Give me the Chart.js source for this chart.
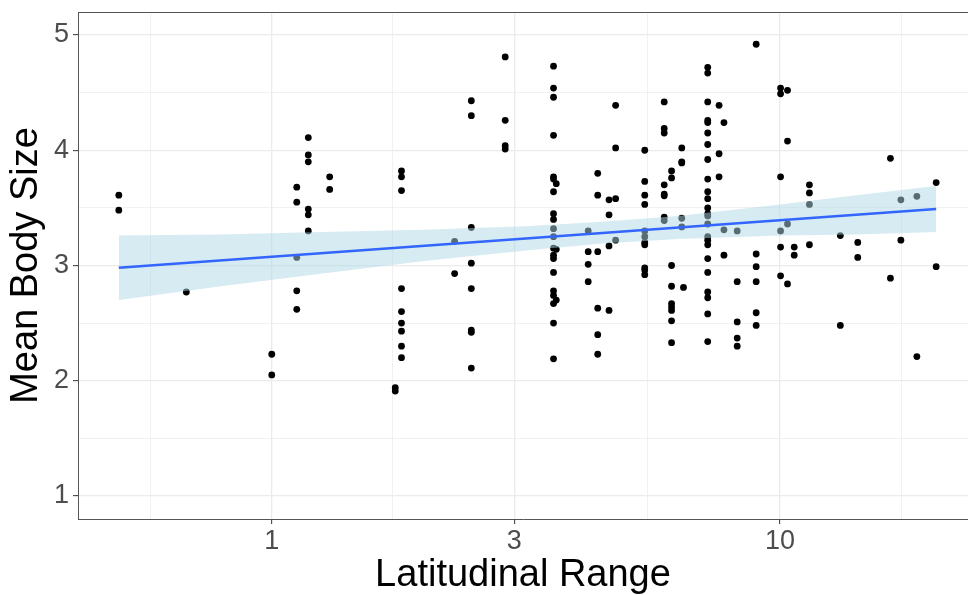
<!DOCTYPE html>
<html>
<head>
<meta charset="utf-8">
<script src="https://cdn.jsdelivr.net/npm/chart.js@4/dist/chart.umd.min.js"></script>
<style>
  html, body { margin: 0; padding: 0; background: #fff; overflow: hidden; }
  canvas { display: block; }
</style>
</head>
<body>
<canvas id="chart" width="968" height="595"></canvas>
<script>
// Latitudinal range (x, log scale) and mean body size (y) for each species
const latRange = [
  0.5, 0.5,
  0.679,
  1.0, 1.0,
  1.12, 1.12, 1.12, 1.12, 1.12,
  1.18, 1.18, 1.18, 1.18, 1.18, 1.18,
  1.30, 1.30,
  1.75, 1.75,
  1.80, 1.80, 1.80, 1.80, 1.80, 1.80, 1.80, 1.80, 1.80,
  2.29, 2.29,
  2.47, 2.47, 2.47, 2.47, 2.47, 2.47, 2.47, 2.47,
  2.88, 2.88, 2.88, 2.88,
  3.585, 3.585, 3.585, 3.585, 3.585, 3.585, 3.585, 3.585, 3.585, 3.585,
  3.585, 3.585, 3.585, 3.585, 3.585, 3.585, 3.585, 3.585, 3.585, 3.585,
  3.63, 3.63, 3.63,
  4.195, 4.195, 4.195, 4.195,
  4.38, 4.38, 4.38, 4.38, 4.38, 4.38,
  4.61, 4.61, 4.61, 4.61,
  4.75, 4.75, 4.75, 4.75,
  5.42, 5.42, 5.42, 5.42, 5.42, 5.42, 5.42, 5.42, 5.42, 5.42, 5.42,
  5.92, 5.92, 5.92, 5.92, 5.92, 5.92, 5.92, 5.92,
  6.12, 6.12, 6.12, 6.12, 6.12, 6.12, 6.12, 6.12, 6.12,
  6.41, 6.41, 6.41, 6.41, 6.41,
  6.46,
  7.21, 7.21, 7.21, 7.21, 7.21, 7.21, 7.21, 7.21, 7.21, 7.21, 7.21, 7.21,
  7.21, 7.21, 7.21, 7.21, 7.21, 7.21, 7.21, 7.21, 7.21, 7.21, 7.21, 7.21,
  7.59, 7.59, 7.59,
  7.76, 7.76, 7.76,
  8.24, 8.24, 8.24, 8.24, 8.24,
  8.98, 8.98, 8.98, 8.98, 8.98, 8.98,
  10.03, 10.03, 10.03, 10.03, 10.03, 10.03,
  10.35, 10.35, 10.35, 10.35,
  10.67, 10.67,
  11.43, 11.43, 11.43, 11.43,
  13.15, 13.15,
  14.23, 14.23,
  16.5, 16.5,
  17.3, 17.3,
  18.6, 18.6,
  20.3, 20.3
];
const bodySize = [
  3.61, 3.48,
  2.77,
  2.23, 2.05,
  3.68, 3.55, 3.07, 2.78, 2.62,
  4.11, 3.96, 3.90, 3.49, 3.44, 3.30,
  3.77, 3.66,
  1.94, 1.91,
  3.82, 3.77, 3.65, 2.80, 2.60, 2.50, 2.43, 2.30, 2.20,
  3.21, 2.93,
  4.43, 4.30, 3.33, 3.02, 2.80, 2.44, 2.42, 2.11,
  4.81, 4.26, 4.04, 4.01,
  4.73, 4.54, 4.46, 4.13, 3.77, 3.75, 3.64, 3.45, 3.40, 3.32,
  3.25, 3.15, 3.09, 3.06, 2.94, 2.78, 2.74, 2.67, 2.50, 2.19,
  3.71, 3.14, 2.70,
  3.30, 3.12, 3.01, 2.86,
  3.80, 3.61, 3.12, 2.63, 2.40, 2.23,
  3.57, 3.44, 3.17, 2.61,
  4.39, 4.02, 3.58, 3.22,
  4.00, 3.73, 3.61, 3.53, 3.30, 3.25, 3.20, 3.18, 2.98, 2.96, 2.92,
  4.42, 4.19, 4.15, 3.70, 3.62, 3.605, 3.42, 3.39,
  3.82, 3.76, 3.00, 2.82, 2.67, 2.64, 2.61, 2.52, 2.33,
  4.02, 3.90, 3.89, 3.41, 3.335,
  2.81,
  4.72, 4.67, 4.42, 4.26, 4.24, 4.15, 4.05, 3.92, 3.75, 3.64, 3.58, 3.50,
  3.45, 3.43, 3.36, 3.25, 3.22, 3.18, 3.06, 2.94, 2.77, 2.72, 2.58, 2.34,
  4.39, 3.97, 3.77,
  4.24, 3.31, 3.09,
  3.30, 2.86, 2.51, 2.37, 2.30,
  4.92, 3.10, 2.99, 2.86, 2.59, 2.48,
  4.54, 4.49, 3.77, 3.30, 3.16, 2.91,
  4.52, 4.08, 3.36, 2.84,
  3.16, 3.09,
  3.70, 3.63, 3.53, 3.18,
  3.26, 2.48,
  3.20, 3.07,
  3.93, 2.89,
  3.57, 3.22,
  3.60, 2.21,
  3.72, 2.99
];

// fitted line (straight on the log axis) and its confidence band
const fitX = [0.5, 20.3];
const fitY = [2.98, 3.49];
const bandX = [0.5, 0.794, 1.259, 1.995, 3.162, 4.467, 6.31, 10, 14.13, 20.3];
const bandLow = [2.70, 2.82, 2.93, 3.04, 3.13, 3.19, 3.23, 3.26, 3.27, 3.29];
const bandHigh = [3.26, 3.27, 3.29, 3.31, 3.34, 3.38, 3.43, 3.53, 3.61, 3.69];

// axis breaks
const xTicks = [1, 3, 10];
const xMinorTicks = [0.5774, 1.732, 5.477, 17.32];
const yTicks = [1, 2, 3, 4, 5];
const yMinorTicks = [1.5, 2.5, 3.5, 4.5];

const toPoints = (xs, ys) => xs.map((x, i) => ({ x, y: ys[i] }));

const gridColor = '#EBEBEB';
const axisGrey = '#4D4D4D';
const font = 'Liberation Sans, Arial, sans-serif';

const setTicks = (major, minor) => (axis) => {
  axis.ticks = major.map(v => ({ value: v, major: true }))
    .concat(minor.map(v => ({ value: v, major: false })))
    .sort((a, b) => a.value - b.value);
};

// top edge of the panel frame
const panelFrame = {
  id: 'panelFrame',
  afterDatasetsDraw(chart) {
    const { ctx, chartArea } = chart;
    ctx.save();
    ctx.strokeStyle = '#555';
    ctx.lineWidth = 1;
    ctx.beginPath();
    ctx.moveTo(chartArea.left, chartArea.top + 0.5);
    ctx.lineTo(chartArea.right, chartArea.top + 0.5);
    ctx.stroke();
    ctx.restore();
  }
};

new Chart(document.getElementById('chart'), {
  type: 'scatter',
  data: {
    datasets: [
      {
        label: 'fit',
        data: toPoints(fitX, fitY),
        showLine: true,
        borderColor: '#3366FF',
        borderWidth: 2.6,
        pointRadius: 0,
        order: 0
      },
      {
        label: 'lower',
        data: toPoints(bandX, bandLow),
        showLine: true,
        borderWidth: 0,
        borderColor: 'rgba(0,0,0,0)',
        pointRadius: 0,
        fill: false,
        order: 2
      },
      {
        label: 'upper',
        data: toPoints(bandX, bandHigh),
        showLine: true,
        borderWidth: 0,
        borderColor: 'rgba(0,0,0,0)',
        backgroundColor: 'rgba(173,216,230,0.5)',
        pointRadius: 0,
        fill: '-1',
        order: 1
      },
      {
        label: 'species',
        data: toPoints(latRange, bodySize),
        backgroundColor: '#000',
        borderWidth: 0,
        pointRadius: 3.4,
        pointHoverRadius: 3.4,
        order: 3
      }
    ]
  },
  options: {
    responsive: false,
    animation: false,
    devicePixelRatio: 1,
    events: [],
    layout: {
      autoPadding: false,
      padding: { top: 12, right: 0, bottom: 0, left: 0 }
    },
    plugins: {
      legend: { display: false },
      tooltip: { enabled: false }
    },
    scales: {
      x: {
        type: 'logarithmic',
        min: 0.4156,
        max: 23.45,
        afterBuildTicks: setTicks(xTicks, xMinorTicks),
        afterFit: (axis) => {
          axis.height = 76;
          axis.paddingLeft = 0;
          axis.paddingRight = 0;
        },
        ticks: {
          autoSkip: false,
          maxRotation: 0,
          padding: 1,
          color: axisGrey,
          font: { family: font, size: 27 },
          callback: (v) => xTicks.includes(v) ? String(v) : ''
        },
        grid: {
          color: gridColor,
          lineWidth: (c) => c.tick && c.tick.major ? 1.3 : 0.7,
          tickLength: 5,
          tickColor: (c) => c.tick && c.tick.major ? '#333' : 'rgba(0,0,0,0)',
          tickWidth: 1
        },
        border: { display: true, color: '#555', width: 1 },
        title: {
          display: true,
          text: 'Latitudinal Range',
          color: '#000',
          padding: { top: 0, bottom: 0 },
          font: { family: font, size: 38, lineHeight: 1.0 }
        }
      },
      y: {
        type: 'linear',
        min: 0.8,
        max: 5.2,
        afterBuildTicks: setTicks(yTicks, yMinorTicks),
        afterFit: (axis) => {
          axis.width = 78;
          axis.paddingTop = 0;
          axis.paddingBottom = 0;
        },
        ticks: {
          autoSkip: false,
          padding: 4,
          color: axisGrey,
          font: { family: font, size: 27 },
          callback: (v) => yTicks.includes(v) ? String(v) : ''
        },
        grid: {
          color: gridColor,
          lineWidth: (c) => c.tick && c.tick.major ? 1.3 : 0.7,
          tickLength: 5,
          tickColor: (c) => c.tick && c.tick.major ? '#333' : 'rgba(0,0,0,0)',
          tickWidth: 1
        },
        border: { display: true, color: '#555', width: 1 },
        title: {
          display: true,
          text: 'Mean Body Size',
          color: '#000',
          padding: { top: 8, bottom: 0 },
          font: { family: font, size: 38, lineHeight: 1.0 }
        }
      }
    }
  },
  plugins: [panelFrame]
});
</script>
</body>
</html>
